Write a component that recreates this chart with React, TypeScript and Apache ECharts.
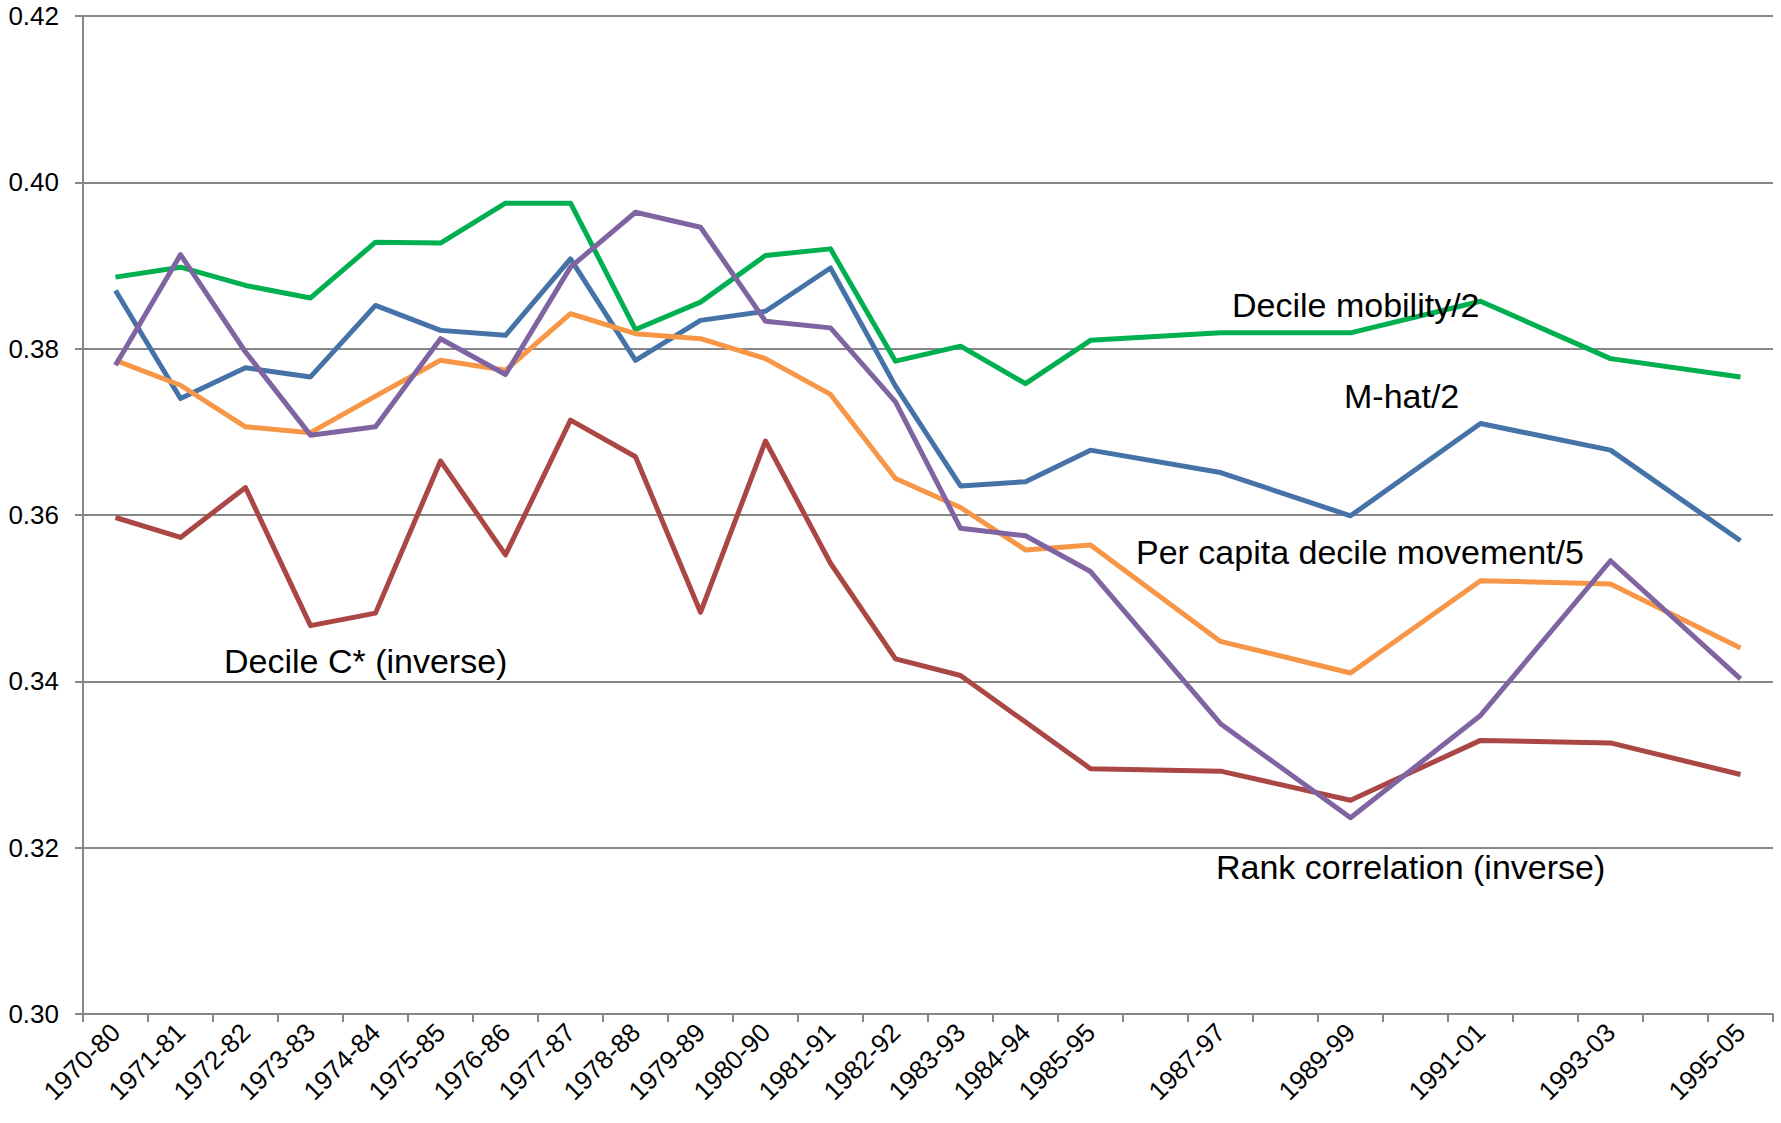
import React, { useEffect, useRef } from "react";
import * as echarts from "echarts";

// Start year of each ten-year period (x position on a year scale)
const startYears = [
  1970, 1971, 1972, 1973, 1974, 1975, 1976, 1977, 1978, 1979, 1980, 1981,
  1982, 1983, 1984, 1985, 1987, 1989, 1991, 1993, 1995,
];
const periodLabels = [
  "1970-80", "1971-81", "1972-82", "1973-83", "1974-84", "1975-85",
  "1976-86", "1977-87", "1978-88", "1979-89", "1980-90", "1981-91",
  "1982-92", "1983-93", "1984-94", "1985-95", "1987-97", "1989-99",
  "1991-01", "1993-03", "1995-05",
];

const mHat = [
  0.387, 0.374, 0.3777, 0.3766, 0.3852, 0.3822, 0.3816, 0.3908, 0.3786,
  0.3834, 0.3845, 0.3897, 0.3755, 0.3635, 0.364, 0.3678, 0.3651, 0.3599,
  0.371, 0.3678, 0.3569,
];
const decileCStar = [
  0.3597, 0.3573, 0.3633, 0.3467, 0.3482, 0.3665, 0.3552, 0.3714, 0.367,
  0.3483, 0.3689, 0.3542, 0.3427, 0.3407, 0.3351, 0.3295, 0.3292, 0.3257,
  0.3329, 0.3326, 0.3288,
];
const decileMobility = [
  0.3886, 0.3898, 0.3876, 0.3861, 0.3928, 0.3927, 0.3975, 0.3975, 0.3823,
  0.3856, 0.3912, 0.392, 0.3785, 0.3803, 0.3758, 0.381, 0.3819, 0.3819,
  0.3857, 0.3788, 0.3766,
];
const perCapitaMovement = [
  0.3786, 0.3756, 0.3706, 0.3699, 0.3743, 0.3786, 0.3774, 0.3842, 0.3818,
  0.3812, 0.3788, 0.3745, 0.3644, 0.3609, 0.3558, 0.3564, 0.3448, 0.341,
  0.3521, 0.3517, 0.344,
];
const rankCorrelation = [
  0.378, 0.3913, 0.3796, 0.3696, 0.3706, 0.3812, 0.3769, 0.3898, 0.3964,
  0.3946, 0.3833, 0.3825, 0.3736, 0.3584, 0.3575, 0.3532, 0.3349, 0.3236,
  0.3359, 0.3545, 0.3403,
];

const yTicks = [0.3, 0.32, 0.34, 0.36, 0.38, 0.4, 0.42];

const seriesDefs = [
  { name: "M-hat/2", values: mHat, color: "#4572A7" },
  { name: "Decile C* (inverse)", values: decileCStar, color: "#AA4643" },
  { name: "Decile mobility/2", values: decileMobility, color: "#00B050" },
  { name: "Per capita decile movement/5", values: perCapitaMovement, color: "#F79646" },
  { name: "Rank correlation (inverse)", values: rankCorrelation, color: "#8064A2" },
];

const annotations = [
  { text: "Decile mobility/2", x: 1232, y: 308 },
  { text: "M-hat/2", x: 1344, y: 399 },
  { text: "Per capita decile movement/5", x: 1136, y: 555 },
  { text: "Decile C* (inverse)", x: 224, y: 664 },
  { text: "Rank correlation (inverse)", x: 1216, y: 870 },
];

const FONT = "Liberation Sans";

export default function App() {
  const ref = useRef<HTMLDivElement>(null);

  useEffect(() => {
    document.body.style.margin = "0";
    if (!ref.current) return;
    const chart = echarts.init(ref.current, null, { renderer: "svg" });

    const firstYear = startYears[0];
    const lastYear = startYears[startYears.length - 1];
    const slotLabels: string[] = [];
    for (let y = firstYear; y <= lastYear; y++) {
      const idx = startYears.indexOf(y);
      slotLabels.push(idx >= 0 ? periodLabels[idx] : "");
    }

    const axisGray = "#878787";

    chart.setOption({
      animation: false,
      backgroundColor: "#ffffff",
      textStyle: { fontFamily: FONT },
      grid: { left: 83, right: 8, top: 16, bottom: 109, containLabel: false },
      xAxis: [
        {
          type: "category",
          data: slotLabels,
          boundaryGap: true,
          axisLine: { show: true, lineStyle: { color: axisGray, width: 2 } },
          axisTick: { show: true, interval: 0, length: 8, lineStyle: { color: axisGray, width: 2 } },
          axisLabel: {
            interval: 0,
            rotate: 45,
            fontSize: 26,
            color: "#000000",
            fontFamily: FONT,
            margin: 14,
          },
          splitLine: { show: false },
        },
        {
          type: "value",
          min: firstYear - 0.5,
          max: lastYear + 0.5,
          show: false,
          splitLine: { show: false },
        },
      ],
      yAxis: {
        type: "value",
        min: yTicks[0],
        max: yTicks[yTicks.length - 1],
        interval: 0.02,
        axisLine: { show: true, lineStyle: { color: axisGray, width: 2 } },
        axisTick: { show: true, length: 8, lineStyle: { color: axisGray, width: 2 } },
        axisLabel: {
          fontSize: 26,
          color: "#000000",
          fontFamily: FONT,
          margin: 24,
          formatter: (v: number) => v.toFixed(2),
        },
        splitLine: { show: true, lineStyle: { color: axisGray, width: 2 } },
      },
      series: seriesDefs.map((s) => ({
        name: s.name,
        type: "line",
        xAxisIndex: 1,
        data: s.values.map((v, i) => [startYears[i], v]),
        showSymbol: false,
        symbol: "none",
        lineStyle: { color: s.color, width: 5, join: "round" },
        itemStyle: { color: s.color },
      })),
      graphic: annotations.map((a) => ({
        type: "text",
        left: a.x,
        top: a.y - 20,
        z: 100,
        style: {
          text: a.text,
          fill: "#000000",
          font: `34px "${FONT}"`,
        },
      })),
    });

    return () => chart.dispose();
  }, []);

  return <div ref={ref} style={{ width: 1781, height: 1123 }} />;
}
